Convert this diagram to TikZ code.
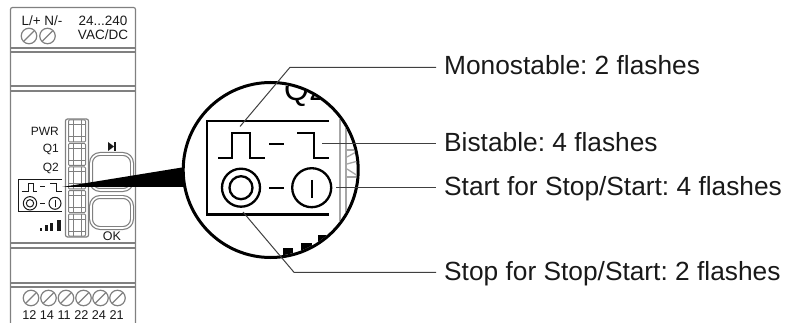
\documentclass[tikz,border=0pt]{standalone}
\usepackage{fontspec}
\setmainfont{Liberation Sans}
\frenchspacing
\begin{document}
\begin{tikzpicture}[
    x=1pt, y=-1pt,
    devline/.style={draw=black!50, line width=1.2pt},
    screw/.style={circle, draw=black!50, line width=1.2pt, minimum size=15.5pt, inner sep=0pt, path picture={\draw[black!50, line width=1.2pt] ([xshift=-5pt,yshift=-5pt]path picture bounding box.center) -- ([xshift=5pt,yshift=5pt]path picture bounding box.center);}},
    ledcell/.style={rectangle, draw=black!50, line width=1pt, minimum width=17pt, minimum height=22pt, inner sep=0pt, rounded corners=1pt, path picture={\draw[black!50, line width=1pt] ([xshift=-4pt,yshift=-12pt]path picture bounding box.center) -- ([xshift=-4pt,yshift=12pt]path picture bounding box.center); \draw[black!50, line width=1pt] ([xshift=4pt,yshift=-12pt]path picture bounding box.center) -- ([xshift=4pt,yshift=12pt]path picture bounding box.center); \draw[black!50, line width=1pt] ([xshift=-9pt,yshift=-6pt]path picture bounding box.center) -- ([xshift=9pt,yshift=-6pt]path picture bounding box.center); \draw[black!50, line width=1pt] ([xshift=-9pt,yshift=6pt]path picture bounding box.center) -- ([xshift=9pt,yshift=6pt]path picture bounding box.center);}},
    pushbutton/.style={rectangle, draw=black!50, double=white, double distance=1.6pt, line width=1.2pt, rounded corners=9pt, minimum width=41pt, inner sep=0pt},
    small/.style={font=\fontsize{12}{14}\selectfont, inner sep=0pt, text=black!90},
    icon/.style={draw=black!90, line width=1pt},
    bigicon/.style={draw=black, line width=2.3pt},
    leader/.style={draw=black!75, line width=1pt},
    callout/.style={font=\fontsize{26.3}{30}\selectfont, anchor=west, inner ysep=0pt, inner xsep=8pt, text height=19pt, text depth=3.6pt, text=black!90}
]
\useasboundingbox (0,0) rectangle (789,323);
% housing
\draw[devline, rounded corners=2pt] (10.5,323) -- (10.5,7.5) -- (135.5,7.5) -- (135.5,323);
\draw[devline] (10.5,48) -- (135.5,48);
\draw[devline] (10.5,52) -- (135.5,52);
\draw[devline] (10.5,86) -- (135.5,86);
\draw[devline] (10.5,91) -- (135.5,91);
\draw[devline] (10.5,243) -- (135.5,243);
\draw[devline] (10.5,248) -- (135.5,248);
\draw[devline] (10.5,283) -- (135.5,283);
\draw[devline] (10.5,287) -- (135.5,287);
% top terminals
\node[small, font=\fontsize{13.5}{15}\selectfont] (supply) at (42,21) {L/+ N/-};
\node[small, font=\fontsize{13.5}{15}\selectfont] (range) at (103,20.5) {24...240};
\node[small, font=\fontsize{13.5}{15}\selectfont] (vacdc) at (103,35) {VAC/DC};
\node[screw] (lplus) at (29,36) {};
\node[screw] (nminus) at (47.5,36) {};
% led column
\node[rectangle, draw=black!50, line width=1.2pt, rounded corners=2pt, minimum width=23pt, minimum height=118pt, inner sep=0pt] (ledbar) at (77,178) {};
\node[ledcell] (ledpwr) at (77,131) {};
\node[ledcell] (ledqone) at (77,154.5) {};
\node[ledcell] (ledqtwo) at (77,178) {};
\node[ledcell] (ledmode) at (77,201.5) {};
\node[ledcell] (ledsignal) at (77,225) {};
\node[small, anchor=east] (pwr) at (59,131) {PWR};
\node[small, anchor=east] (qone) at (59,149) {Q1};
\node[small, anchor=east] (qtwo) at (59,168) {Q2};
% push buttons
\node[pushbutton, minimum height=36pt] (btnrun) at (111.5,172) {};
\node[pushbutton, minimum height=31pt] (btnok) at (111.5,212.5) {};
\fill[black!90] (108,142) -- (114,146.5) -- (108,151) -- cycle;
\fill[black!90] (114,142) rectangle (115.5,151);
\node[small, font=\fontsize{12.5}{14}\selectfont] (oktext) at (112,236) {OK};
% small mode label
\draw[icon] (62,179.5) -- (18,179.5) -- (18,211.5) -- (62,211.5);
\draw[icon] (21.7,191.7) -- (28.3,191.7) -- (28.3,183.3) -- (33.3,183.3) -- (33.3,191.7) -- (37.3,191.7);
\draw[icon] (40,187) -- (45,187);
\draw[icon] (50,183.3) -- (56.7,183.3) -- (56.7,191.7) -- (61.7,191.7);
\draw[icon] (30,203.3) circle (6.7);
\draw[icon] (30,203.3) circle (3.7);
\draw[icon] (40,203.3) -- (45,203.3);
\draw[icon] (55,203.3) circle (6);
\draw[icon] (55,200) -- (55,207);
% signal bars
\fill[black!90] (39.5,228) rectangle (42,231);
\fill[black!90] (44.5,225) rectangle (47.5,231);
\fill[black!90] (49.5,222.5) rectangle (52.5,231);
\fill[black!90] (56.5,220) rectangle (61,231);
% bottom terminals
\node[screw] (tone) at (31,298) {};
\node[screw] (ttwo) at (48.5,298) {};
\node[screw] (tthree) at (66,298) {};
\node[screw] (tfour) at (83.5,298) {};
\node[screw] (tfive) at (100.5,298) {};
\node[screw] (tsix) at (117.5,298) {};
\node[small, font=\fontsize{12.7}{14}\selectfont] (tnumbers) at (73,315) {12 14 11 22 24 21};
% wedge and magnifier
\fill[black] (62,187) -- (185,167) -- (185,187) -- cycle;
\node[circle, draw=black, fill=white, line width=3pt, minimum size=175pt, inner sep=0pt] (lens) at (270.7,170) {};
\begin{scope}
\clip (270.7,170) circle (86);
\draw[draw=black!35, line width=1.3pt] (340,118) -- (340,230);
\draw[draw=black!35, line width=1.3pt] (346,118) -- (346,230);
\draw[draw=black!35, line width=1.3pt] (347,150) -- (360,150);
\draw[draw=black!35, line width=1.3pt] (347,157) -- (358,151);
\draw[draw=black!35, line width=1.3pt] (347,164) -- (358,161);
\draw[draw=black!35, line width=1.3pt] (347,169) -- (358,176);
\draw[draw=black!35, line width=1.3pt] (347,177) -- (360,177);
\node[anchor=base west, inner sep=0pt, font=\fontsize{32}{34}\selectfont] (lensqtwo) at (284,101) {Q2};
\fill[black] (283,248) rectangle (293,262);
\fill[black] (301,243) rectangle (312,262);
\fill[black] (318,235) rectangle (327,262);
\end{scope}
% big mode label
\draw[bigicon] (329,120.7) -- (207,120.7) -- (207,214.5) -- (329,214.5);
\draw[bigicon] (218.3,157.7) -- (231.7,157.7) -- (231.7,133.3) -- (250,133.3) -- (250,157.7) -- (265,157.7);
\draw[bigicon] (269.3,144.3) -- (284.3,144.3);
\draw[bigicon] (297.3,133.3) -- (314,133.3) -- (314,157.7) -- (329,157.7);
\node[circle, draw=black, line width=2.3pt, minimum size=38pt, inner sep=0pt] (stopouter) at (241,187.7) {};
\node[circle, draw=black, line width=2.3pt, minimum size=23pt, inner sep=0pt] (stopinner) at (241,187.7) {};
\draw[bigicon] (269.3,187.7) -- (284.3,187.7);
\node[circle, draw=black, line width=2.3pt, minimum size=39pt, inner sep=0pt] (startring) at (311.7,187.7) {};
\draw[bigicon] (311.7,180) -- (311.7,197.7);
% callouts
\node[callout] (mono) at (436,67.3) {Monostable: 2 flashes};
\node[callout] (bista) at (436,144) {Bistable: 4 flashes};
\node[callout] (startss) at (436,187.3) {Start for Stop/Start: 4 flashes};
\node[callout] (stopss) at (436,272.3) {Stop for Stop/Start: 2 flashes};
\coordinate (monoend) at (240,126.5);
\coordinate (monobend) at (290,67.3);
\coordinate (bistaend) at (322,144);
\coordinate (startend) at (336,187.3);
\coordinate (stopend) at (243,212);
\coordinate (stopbend) at (294,272.3);
\draw[leader] (monoend) -- (monobend) -- (mono.west);
\draw[leader] (bistaend) -- (bista.west);
\draw[leader] (startend) -- (startss.west);
\draw[leader] (stopend) -- (stopbend) -- (stopss.west);
\end{tikzpicture}
\end{document}
